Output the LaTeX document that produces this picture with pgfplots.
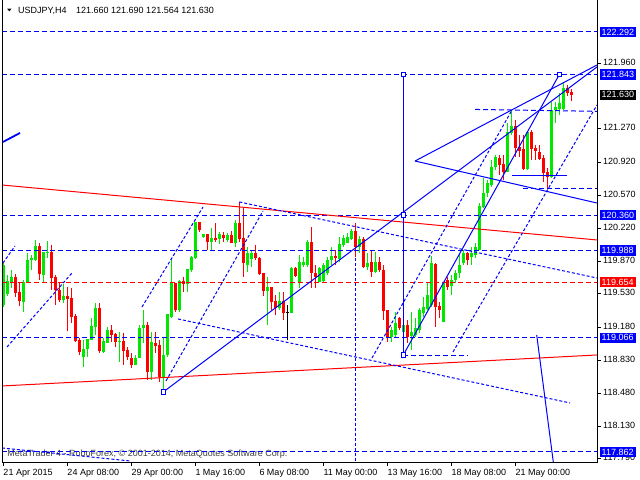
\documentclass[border=0pt]{standalone}
\usepackage{fontspec}
\setmainfont{Liberation Sans}
\newfontfamily\dejavu{DejaVu Sans}
\usepackage{graphicx}
\usepackage{pgfplots}
\usepackage{pgfplotstable}
\pgfplotsset{compat=1.18}
\definecolor{mtblue}{RGB}{0,0,255}
\definecolor{mtred}{RGB}{255,0,0}
\definecolor{mtgreen}{RGB}{0,232,0}
\newcommand\lab{\fontsize{9bp}{10.8bp}\selectfont}
\tikzset{
  hd/.style={mtblue, line width=1bp, dash pattern=on 5bp off 3bp},
  dd/.style={mtblue, line width=1bp, dash pattern=on 3bp off 2bp},
  sl/.style={mtblue, line width=1bp},
  plab/.style={anchor=west, inner sep=0pt, font=\lab, xshift=6bp, yshift=1bp},
  pbox/.style={anchor=west, inner xsep=2bp, inner ysep=2bp, font=\lab, text=white, xshift=2.5bp},
  dlab/.style={anchor=base west, inner sep=0pt, font=\lab, yshift=-13.5bp},
}

\pgfplotstableread{
k O H L C
0 119.412 119.866 119.391 119.834
1 119.528 119.729 119.507 119.666
2 119.655 119.782 119.592 119.708
5 119.444 119.676 119.339 119.655
6 119.655 119.961 119.644 119.887
7 119.887 119.940 119.782 119.908
8 119.887 120.098 119.877 120.035
10 119.729 119.971 119.655 119.971
11 119.961 120.087 119.908 119.971
15 119.465 119.634 119.434 119.507
20 118.864 119.043 118.758 118.948
21 118.948 119.054 118.864 119.054
22 119.043 119.275 119.043 119.191
23 119.180 119.434 119.096 119.381
25 118.917 119.064 118.906 119.033
26 119.012 119.180 119.012 119.149
29 119.022 119.128 118.811 119.033
33 118.780 118.885 118.780 118.853
34 118.853 119.201 118.853 119.170
35 119.170 119.360 119.012 119.201
37 118.706 119.128 118.621 119.022
40 118.642 119.064 118.495 118.885
41 118.885 119.317 118.864 119.317
42 119.286 119.908 119.275 119.644
44 119.360 119.676 119.339 119.666
46 119.634 119.792 119.550 119.792
47 119.782 119.929 119.760 119.919
48 119.908 120.288 119.898 120.288
50 120.130 120.161 120.119 120.161
52 120.077 120.225 119.993 120.119
54 120.109 120.182 120.056 120.161
56 120.098 120.172 120.077 120.151
58 120.066 120.309 120.024 120.277
61 119.834 120.024 119.760 119.961
62 119.898 119.993 119.813 119.961
66 119.560 119.708 119.201 119.602
69 119.381 119.550 119.360 119.455
72 119.328 119.813 119.328 119.803
74 119.655 119.940 119.592 119.866
75 119.834 119.919 119.813 119.866
76 119.834 120.098 119.813 120.077
79 119.655 119.813 119.655 119.803
80 119.666 119.855 119.655 119.834
81 119.750 119.919 119.729 119.887
82 119.887 120.024 119.834 119.929
84 119.898 120.130 119.866 120.056
85 120.045 120.151 120.024 120.119
86 120.066 120.172 120.066 120.130
87 120.109 120.214 120.098 120.193
89 120.024 120.140 119.961 120.109
91 119.813 119.961 119.782 119.855
93 119.760 119.971 119.750 119.866
97 119.075 119.180 119.022 119.149
98 119.096 119.339 119.064 119.223
100 119.128 119.275 118.885 119.201
102 119.085 119.339 118.938 119.128
103 119.096 119.275 119.075 119.170
104 119.149 119.381 119.117 119.360
105 119.328 119.497 119.286 119.391
106 119.370 119.655 119.360 119.518
107 119.412 119.929 119.391 119.855
110 119.233 119.655 119.233 119.655
112 119.613 119.729 119.518 119.676
113 119.676 119.782 119.644 119.750
114 119.750 119.961 119.697 119.834
115 119.855 119.993 119.834 119.961
117 119.919 120.024 119.834 119.961
118 119.940 120.066 119.908 120.024
119 119.993 120.488 119.993 120.457
120 120.446 120.752 120.436 120.594
121 120.594 120.731 120.552 120.699
122 120.678 120.942 120.657 120.868
123 120.868 120.995 120.836 120.974
126 120.815 121.332 120.815 121.237
127 121.227 121.469 121.206 121.300
131 120.847 121.237 120.836 121.237
137 120.763 121.554 120.752 121.469
138 121.469 121.554 121.332 121.501
139 121.480 121.649 121.417 121.543
140 121.480 121.765 121.469 121.701
}\bull

\pgfplotstableread{
k O H L C
3 119.708 119.739 119.497 119.539
4 119.550 119.655 119.402 119.455
9 120.035 120.066 119.676 119.739
12 119.971 120.045 119.571 119.697
13 119.708 119.729 119.412 119.571
14 119.571 119.655 119.444 119.465
16 119.507 119.602 119.138 119.476
17 119.486 119.592 119.223 119.286
18 119.296 119.317 119.022 119.033
19 119.043 119.064 118.885 118.917
24 119.381 119.434 118.906 118.927
27 119.149 119.201 119.022 119.096
28 119.107 119.117 118.969 119.022
30 119.033 119.117 118.780 118.927
31 118.938 118.969 118.832 118.864
32 118.853 118.906 118.748 118.780
36 119.201 119.233 118.621 118.706
38 119.012 119.128 118.906 118.980
39 118.990 119.043 118.600 118.653
43 119.644 119.644 119.339 119.360
45 119.666 119.708 119.550 119.634
49 120.288 120.288 120.182 120.204
51 120.161 120.161 119.993 120.077
53 120.119 120.277 120.077 120.098
55 120.151 120.182 120.077 120.119
57 120.151 120.193 120.066 120.066
59 120.277 120.499 120.077 120.109
60 120.119 120.436 119.708 119.855
63 119.961 120.045 119.887 119.908
64 119.908 119.919 119.729 119.739
65 119.750 119.750 119.507 119.560
67 119.602 119.602 119.360 119.444
68 119.455 119.518 119.307 119.381
70 119.455 119.550 119.254 119.328
73 119.803 119.813 119.708 119.718
77 120.077 120.235 119.592 119.750
78 119.750 119.834 119.592 119.708
83 119.929 119.993 119.834 119.908
88 120.193 120.277 119.919 120.024
90 120.109 120.130 119.803 119.813
92 119.866 119.993 119.708 119.760
94 119.866 119.919 119.760 119.782
95 119.782 119.834 119.254 119.349
96 119.360 119.360 119.022 119.075
99 119.275 119.286 119.149 119.170
101 119.201 119.254 119.012 119.075
108 119.845 119.855 119.180 119.391
109 119.402 119.444 119.275 119.360
111 119.676 119.708 119.571 119.602
116 119.961 119.971 119.834 119.887
124 120.963 120.995 120.784 120.889
125 120.900 120.995 120.731 120.815
128 121.300 121.364 120.974 121.068
129 121.079 121.206 120.974 121.037
130 121.058 121.206 120.836 120.847
132 121.237 121.258 120.942 121.058
133 121.068 121.100 120.942 121.037
134 121.026 121.100 120.942 120.952
135 120.963 120.995 120.710 120.805
136 120.815 120.857 120.636 120.763
141 121.701 121.733 121.617 121.649
142 121.660 121.690 121.564 121.630
}\bear

\pgfplotstableread{
k O H L C
71 119.328 119.412 119.043 119.328
}\doji

\begin{document}
\begin{tikzpicture}
\path[use as bounding box, fill=white] (0,0) rectangle (640bp,480bp);
\begin{axis}[
  at={(2bp,18bp)}, anchor=south west, scale only axis,
  width=595bp, height=462bp,
  xmin=-0.325, xmax=148.425, ymin=117.756, ymax=122.6295,
  axis line style={draw=none},
  xtick={0,16,32,48,64,80,96,112,128}, xticklabels={,,,,,,,,}, xtick pos=bottom,
  ytick={121.96,121.27,120.92,120.57,120.22,119.87,119.53,119.18,118.83,118.48,118.13,117.79},
  yticklabels={,,,,,,,,,,,}, ytick pos=right,
  tick align=outside, major tick length=4bp,
  tick style={black, line width=1bp},
  clip mode=individual,
]
% watermark
\node[anchor=base west, inner sep=0pt, font=\lab, text=black!75] at (axis cs:1.0,117.809)
  {MetaTrader 4 - RoboForex, \textcopyright{} 2001-2014, MetaQuotes Software Corp.};

% candles: wicks
\addplot[draw=none, mark=none, forget plot, error bars/.cd, y dir=plus, y explicit, error mark=none,
  error bar style={draw=mtgreen, line width=1bp}]
  table[x=k, y=L, y error expr=\thisrow{H}-\thisrow{L}] {\bull};
\addplot[draw=none, mark=none, forget plot, error bars/.cd, y dir=plus, y explicit, error mark=none,
  error bar style={draw=mtred, line width=1bp}]
  table[x=k, y=L, y error expr=\thisrow{H}-\thisrow{L}] {\bear};
\addplot[draw=none, mark=none, forget plot, error bars/.cd, y dir=plus, y explicit, error mark=none,
  error bar style={draw=black, line width=1bp}]
  table[x=k, y=L, y error expr=\thisrow{H}-\thisrow{L}] {\doji};
% bodies
\addplot[draw=none, mark=none, forget plot, error bars/.cd, y dir=plus, y explicit, error mark=none,
  error bar style={draw=mtgreen, line width=3bp}]
  table[x=k, y=O, y error expr=\thisrow{C}-\thisrow{O}] {\bull};
\addplot[draw=none, mark=none, forget plot, error bars/.cd, y dir=plus, y explicit, error mark=none,
  error bar style={draw=mtred, line width=3bp}]
  table[x=k, y=C, y error expr=\thisrow{O}-\thisrow{C}] {\bear};
\addplot[draw=none, mark=none, forget plot, error bars/.cd, x dir=both, x fixed=0.375, error mark=none,
  error bar style={draw=black, line width=1bp}]
  table[x=k, y=O] {\doji};

% horizontal levels
\addplot[hd] coordinates {(-0.325,122.292) (148.425,122.292)};
\addplot[hd] coordinates {(-0.325,121.843) (148.425,121.843)};
\addplot[hd] coordinates {(-0.325,120.360) (148.425,120.360)};
\addplot[hd] coordinates {(-0.325,119.988) (148.425,119.988)};
\addplot[hd] coordinates {(-0.325,119.066) (148.425,119.066)};
\addplot[hd] coordinates {(-0.325,117.862) (148.425,117.862)};
\addplot[mtred, line width=1bp, dash pattern=on 5bp off 3bp] coordinates {(-0.325,119.654) (148.425,119.654)};

% red trend lines
\addplot[mtred, line width=1bp] coordinates {(-0.325,120.678) (148.425,120.098)};
\addplot[mtred, line width=1bp] coordinates {(-0.325,118.558) (148.425,118.885)};

% short horizontal dashed / solid segments
\addplot[hd] coordinates {(117.925,121.475) (148.425,121.455)};
\addplot[hd] coordinates {(129.925,120.636) (148.425,120.636)};
\addplot[hd] coordinates {(100,118.875) (116.175,118.875)};
\addplot[sl] coordinates {(127.175,120.773) (140.925,120.773)};

% dotted channel / fan lines
\addplot[dd] coordinates {(59,120.499) (148.425,119.697)};
\addplot[dd] coordinates {(43.675,119.265) (141.675,118.379)};
\addplot[dd] coordinates {(88,119.908) (88,117.70)};
\addplot[dd] coordinates {(34.675,119.391) (49.925,120.446)};
\addplot[dd] coordinates {(40.675,118.611) (64.925,120.404)};
\addplot[dd] coordinates {(0.925,118.969) (17.175,119.750)};
\addplot[dd] coordinates {(-0.075,119.855) (2.925,120.035)};
\addplot[dd] coordinates {(92.175,118.853) (127.175,121.469)};
\addplot[dd] coordinates {(112.425,118.917) (148.425,121.522)};
\addplot[dd] coordinates {(-0.325,117.904) (31.675,117.767)};

% solid blue lines
\addplot[mtblue, line width=1.8bp] coordinates {(-0.075,121.132) (4.175,121.227)};
\addplot[sl] coordinates {(102.925,120.931) (148.425,121.944)};
\addplot[sl] coordinates {(102.925,120.931) (148.425,120.488)};
\addplot[sl] coordinates {(40,118.495) (148.425,121.923)};
\addplot[sl] coordinates {(100,118.885) (139,121.843)};
\addplot[sl] coordinates {(100,118.885) (100,121.843)};
\addplot[sl] coordinates {(133.35,119.096) (137.925,117.619)};

% anchor squares
\addplot[only marks, mark=square*, mark size=2.3bp, mark options={draw=mtblue, fill=white, line width=1bp}]
  coordinates {(100,121.843) (100,120.360) (100,118.885) (139,121.843) (40,118.495)};

% frame
\draw[black, line width=1bp] (rel axis cs:0,1) -- (rel axis cs:0,0) -- (rel axis cs:1,0) -- (rel axis cs:1,1);

% title
\node[inner sep=0pt, font=\dejavu\fontsize{6bp}{6bp}\selectfont] at (axis cs:1.55,122.516) {\scalebox{1}[0.6]{▼}};
\node[anchor=base west, inner sep=0pt, font=\lab] at (axis cs:3.675,122.482) {USDJPY,H4};
\node[anchor=base west, inner sep=0pt, font=\lab] at (axis cs:18.175,122.482) {121.660 121.690 121.564 121.630};

% date labels
\node[dlab] at (axis cs:0,117.756) {21 Apr 2015};
\node[dlab] at (axis cs:16,117.756) {24 Apr 08:00};
\node[dlab] at (axis cs:32,117.756) {29 Apr 00:00};
\node[dlab] at (axis cs:48,117.756) {1 May 16:00};
\node[dlab] at (axis cs:64,117.756) {6 May 08:00};
\node[dlab] at (axis cs:80,117.756) {11 May 00:00};
\node[dlab] at (axis cs:96,117.756) {13 May 16:00};
\node[dlab] at (axis cs:112,117.756) {18 May 08:00};
\node[dlab] at (axis cs:128,117.756) {21 May 00:00};

% price labels
\node[plab] at (axis cs:148.425,121.96) {121.960};
\node[plab] at (axis cs:148.425,121.27) {121.270};
\node[plab] at (axis cs:148.425,120.92) {120.920};
\node[plab] at (axis cs:148.425,120.57) {120.570};
\node[plab] at (axis cs:148.425,120.22) {120.220};
\node[plab] at (axis cs:148.425,119.87) {119.870};
\node[plab] at (axis cs:148.425,119.53) {119.530};
\node[plab] at (axis cs:148.425,119.18) {119.180};
\node[plab] at (axis cs:148.425,118.83) {118.830};
\node[plab] at (axis cs:148.425,118.48) {118.480};
\node[plab] at (axis cs:148.425,118.13) {118.130};
\node[plab] at (axis cs:148.425,117.79) {117.790};

\node[pbox, fill=mtblue] at (axis cs:148.425,122.292) {122.292};
\node[pbox, fill=mtblue] at (axis cs:148.425,121.843) {121.843};
\node[pbox, fill=black] at (axis cs:148.425,121.630) {121.630};
\node[pbox, fill=mtblue] at (axis cs:148.425,120.360) {120.360};
\node[pbox, fill=mtblue] at (axis cs:148.425,119.988) {119.988};
\node[pbox, fill=mtred] at (axis cs:148.425,119.654) {119.654};
\node[pbox, fill=mtblue] at (axis cs:148.425,119.066) {119.066};
\node[pbox, fill=mtblue] at (axis cs:148.425,117.862) {117.862};
\end{axis}
\end{tikzpicture}
\end{document}
